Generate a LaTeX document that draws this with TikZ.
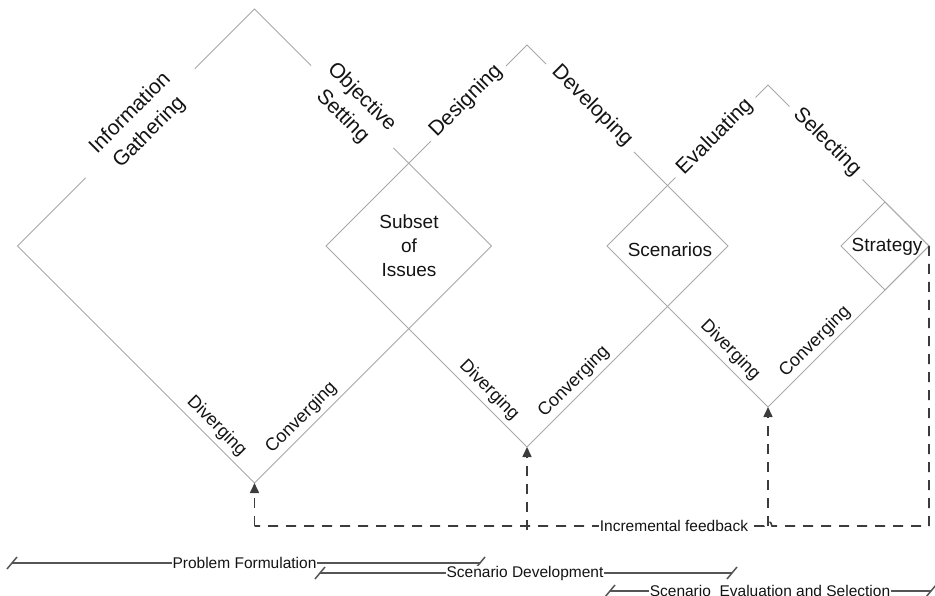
\documentclass[tikz,border=0pt]{standalone}
\usepackage{fontspec}
\setmainfont{Liberation Sans}
\usetikzlibrary{arrows.meta,calc}
\definecolor{linegray}{HTML}{A8A8A8}
\definecolor{fbgray}{HTML}{3C3C3C}
\definecolor{bargray}{HTML}{555555}
\definecolor{txt}{HTML}{141414}
\begin{document}
\begin{tikzpicture}[x=1pt,y=-1pt,
  edge/.style={draw=linegray,line width=0.9pt},
  phase/.style={fill=white,inner sep=0pt,font=\fontsize{21}{27}\selectfont,text=txt,align=center,minimum height=24pt},
  inner/.style={font=\fontsize{19}{24}\selectfont,text=txt,align=center,inner sep=0pt},
  mode/.style={font=\fontsize{18}{20}\selectfont,text=txt,inner sep=0pt},
  fb/.style={draw=fbgray,line width=1.6pt,dash pattern=on 10pt off 8pt},
  fbarrow/.style={fb,-{Triangle[width=9pt,length=10pt]}},
  bar/.style={draw=bargray,line width=1.5pt},
  barlabel/.style={fill=white,inner xsep=1pt,inner ysep=0pt,font=\fontsize{15.5}{18}\selectfont,text=txt}
]
\useasboundingbox (0,0) rectangle (935,596);

% big diamonds
\coordinate (T1) at (254.5,9);   \coordinate (R1) at (491.5,246);
\coordinate (B1) at (254.5,483); \coordinate (L1) at (17.5,246);
\coordinate (T2) at (527,45);    \coordinate (R2) at (728,246);
\coordinate (B2) at (527,447);   \coordinate (L2) at (326,246);
\coordinate (T3) at (768,85);    \coordinate (R3) at (929,246);
\coordinate (B3) at (768,407);   \coordinate (L3) at (607,246);
% strategy diamond
\coordinate (ST) at (885,202); \coordinate (SL) at (841,246);
\coordinate (SB) at (885,290);

\draw[edge] (T1) -- (R1) -- (B1) -- (L1) -- cycle;
\draw[edge] (T2) -- (R2) -- (B2) -- (L2) -- cycle;
\draw[edge] (T3) -- (R3) -- (B3) -- (L3) -- cycle;
\draw[edge] (ST) -- (SL) -- (SB) -- (R3) -- cycle;

% phase labels on the upper edges
\node[phase,rotate=45,minimum width=154pt] (info) at (140,123) {Information\\Gathering};
\node[phase,rotate=-45,minimum width=116pt] (obj) at (352,107) {Objective\\Setting};
\node[phase,rotate=45,minimum width=106pt] (des) at (466,101) {Designing};
\node[phase,rotate=-45,minimum width=124pt] (dev) at (592,106) {Developing};
\node[phase,rotate=45,minimum width=113pt] (eva) at (715,137) {Evaluating};
\node[phase,rotate=-45,minimum width=103pt] (sel) at (827,142) {Selecting};

% inner labels
\node[inner] (subset) at (409,246) {Subset\\of\\Issues};
\node[inner] (scen) at (670,250) {Scenarios};
\node[inner] (strat) at (887,247) {Strategy};

% diverging / converging
\node[mode,rotate=-45] (div1) at ($(B1)+(-38,-57)$) {Diverging};
\node[mode,rotate=45]  (con1) at ($(B1)+(47,-65)$) {Converging};
\node[mode,rotate=-45] (div2) at ($(B2)+(-38,-57)$) {Diverging};
\node[mode,rotate=45]  (con2) at ($(B2)+(47,-65)$) {Converging};
\node[mode,rotate=-45] (div3) at ($(B3)+(-38,-57)$) {Diverging};
\node[mode,rotate=45]  (con3) at ($(B3)+(47,-65)$) {Converging};

% feedback
\coordinate (fR) at (929,526);
\coordinate (fL) at (254.5,526);
\coordinate (f2) at (527,526);
\coordinate (f3) at (768,526);
\coordinate (h1) at (772,526);
\coordinate (h2) at (764,526);
\draw[fb] (R3) -- (fR) -- (h1) .. controls (772,520) and (764,520) .. (h2) -- (fL);
\draw[fbarrow] (fL) -- (B1);
\draw[fbarrow] ($(f2)+(0,4)$) -- (B2);
\draw[fbarrow] (f3) -- (B3);
\node[barlabel] (fbl) at (674,526) {Incremental feedback};

% phase bars
\coordinate (p1a) at (12,563);  \coordinate (p1b) at (480,563);
\coordinate (p2a) at (320,573); \coordinate (p2b) at (732,573);
\coordinate (p3a) at (610,591); \coordinate (p3b) at (931,591);
\draw[bar] (p1a) -- (p1b);
\draw[bar] (p2a) -- (p2b);
\draw[bar] (p3a) -- (p3b);
\foreach \p in {p1a,p1b,p2a,p2b,p3a,p3b}
  \draw[bar] ($(\p)+(-5,6)$) -- ($(\p)+(5,-6)$);
\node[barlabel] (pf) at (244.5,563) {Problem Formulation};
\node[barlabel] (sd) at (525,573) {Scenario Development};
\node[barlabel] (ses) at (770,591) {Scenario\ \ Evaluation and Selection};
\end{tikzpicture}
\end{document}
